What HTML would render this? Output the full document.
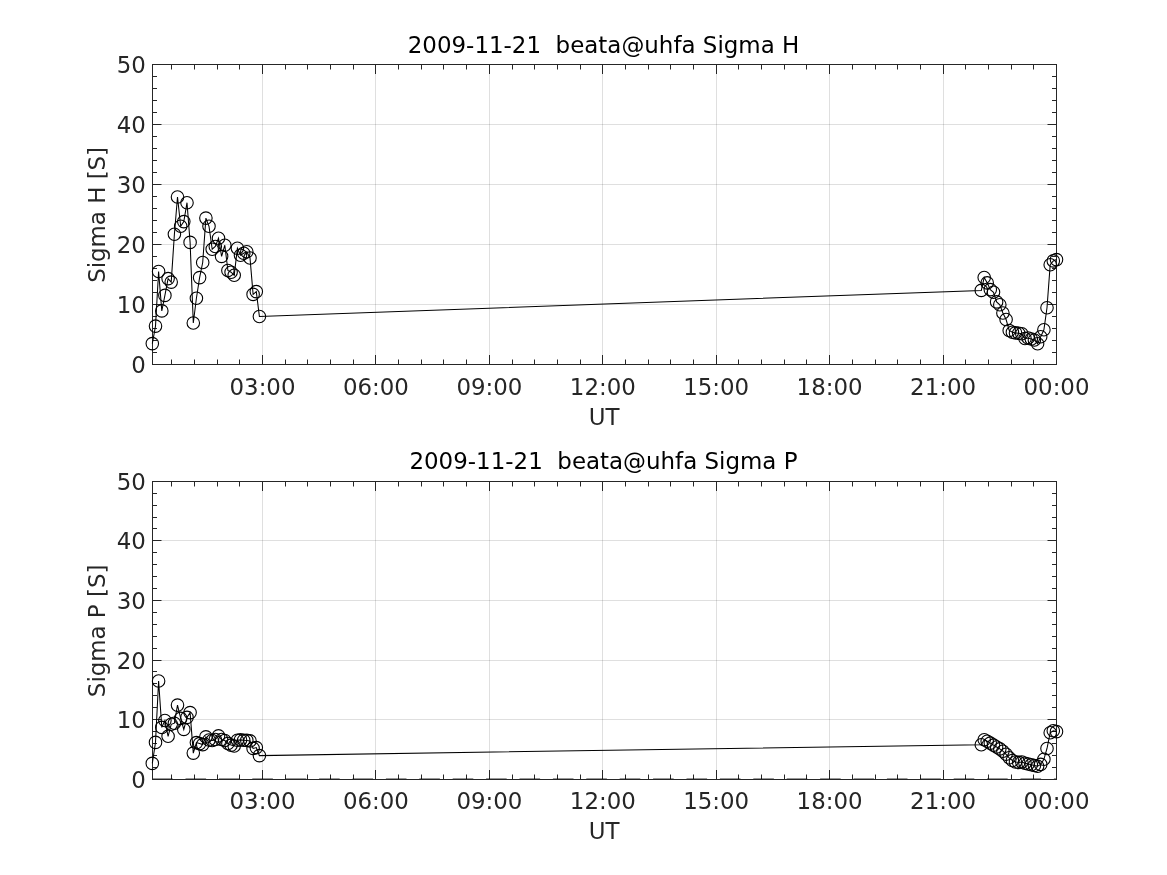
<!DOCTYPE html>
<html lang="en">
<head>
<meta charset="utf-8">
<title>Sigma H / Sigma P</title>
<style>
html,body{margin:0;padding:0;background:#fff;}
body{width:1167px;height:875px;overflow:hidden;}
svg{display:block;font-family:"DejaVu Sans","Liberation Sans",sans-serif;font-size:22.9px;}
</style>
</head>
<body>
<svg width="1167" height="875" viewBox="0 0 1167 875">
<rect width="1167" height="875" fill="#fff"/>
<path d="M262.50 64.5V364.5M375.50 64.5V364.5M489.50 64.5V364.5M602.50 64.5V364.5M716.50 64.5V364.5M829.50 64.5V364.5M943.50 64.5V364.5" stroke="#262626" stroke-opacity="0.15" stroke-width="1" fill="none"/>
<path d="M152.5 304.50H1056.5M152.5 244.50H1056.5M152.5 184.50H1056.5M152.5 124.50H1056.5" stroke="#262626" stroke-opacity="0.15" stroke-width="1" fill="none"/>
<path d="M171.50 364.5v-5M171.50 64.5v5M194.50 364.5v-5M194.50 64.5v5M217.50 364.5v-5M217.50 64.5v5M239.50 364.5v-5M239.50 64.5v5M262.50 364.5v-9.5M262.50 64.5v9.5M285.50 364.5v-5M285.50 64.5v5M307.50 364.5v-5M307.50 64.5v5M330.50 364.5v-5M330.50 64.5v5M353.50 364.5v-5M353.50 64.5v5M375.50 364.5v-9.5M375.50 64.5v9.5M398.50 364.5v-5M398.50 64.5v5M421.50 364.5v-5M421.50 64.5v5M443.50 364.5v-5M443.50 64.5v5M466.50 364.5v-5M466.50 64.5v5M489.50 364.5v-9.5M489.50 64.5v9.5M512.50 364.5v-5M512.50 64.5v5M534.50 364.5v-5M534.50 64.5v5M557.50 364.5v-5M557.50 64.5v5M580.50 364.5v-5M580.50 64.5v5M602.50 364.5v-9.5M602.50 64.5v9.5M625.50 364.5v-5M625.50 64.5v5M648.50 364.5v-5M648.50 64.5v5M670.50 364.5v-5M670.50 64.5v5M693.50 364.5v-5M693.50 64.5v5M716.50 364.5v-9.5M716.50 64.5v9.5M738.50 364.5v-5M738.50 64.5v5M761.50 364.5v-5M761.50 64.5v5M784.50 364.5v-5M784.50 64.5v5M806.50 364.5v-5M806.50 64.5v5M829.50 364.5v-9.5M829.50 64.5v9.5M852.50 364.5v-5M852.50 64.5v5M875.50 364.5v-5M875.50 64.5v5M897.50 364.5v-5M897.50 64.5v5M920.50 364.5v-5M920.50 64.5v5M943.50 364.5v-9.5M943.50 64.5v9.5M965.50 364.5v-5M965.50 64.5v5M988.50 364.5v-5M988.50 64.5v5M1011.50 364.5v-5M1011.50 64.5v5M1033.50 364.5v-5M1033.50 64.5v5M152.5 352.50h4.5M1056.5 352.50h-4.5M152.5 340.50h4.5M1056.5 340.50h-4.5M152.5 328.50h4.5M1056.5 328.50h-4.5M152.5 316.50h4.5M1056.5 316.50h-4.5M152.5 304.50h9M1056.5 304.50h-9M152.5 292.50h4.5M1056.5 292.50h-4.5M152.5 280.50h4.5M1056.5 280.50h-4.5M152.5 268.50h4.5M1056.5 268.50h-4.5M152.5 256.50h4.5M1056.5 256.50h-4.5M152.5 244.50h9M1056.5 244.50h-9M152.5 232.50h4.5M1056.5 232.50h-4.5M152.5 220.50h4.5M1056.5 220.50h-4.5M152.5 208.50h4.5M1056.5 208.50h-4.5M152.5 196.50h4.5M1056.5 196.50h-4.5M152.5 184.50h9M1056.5 184.50h-9M152.5 172.50h4.5M1056.5 172.50h-4.5M152.5 160.50h4.5M1056.5 160.50h-4.5M152.5 148.50h4.5M1056.5 148.50h-4.5M152.5 136.50h4.5M1056.5 136.50h-4.5M152.5 124.50h9M1056.5 124.50h-9M152.5 112.50h4.5M1056.5 112.50h-4.5M152.5 100.50h4.5M1056.5 100.50h-4.5M152.5 88.50h4.5M1056.5 88.50h-4.5M152.5 76.50h4.5M1056.5 76.50h-4.5" stroke="#262626" stroke-width="1" fill="none"/>
<path d="M152.1 364.5H1056.5" stroke="#000" stroke-width="1" stroke-dasharray="20.6 12.8" fill="none"/>
<rect x="152.5" y="64.5" width="904.0" height="300.0" stroke="#262626" stroke-width="1" fill="none"/>
<polyline points="152.3,343.6 155.5,326.1 158.6,271.5 161.8,310.9 164.9,295.4 168.1,278.6 171.2,282.1 174.4,234.3 177.5,197.0 180.7,226.3 183.8,221.6 187.0,202.7 190.1,242.4 193.3,323.0 196.4,298.2 199.6,277.6 202.7,262.5 205.9,218.1 209.0,226.3 212.2,249.2 215.3,246.5 218.5,238.2 221.6,256.4 224.8,245.2 227.9,270.5 231.1,272.2 234.2,275.3 237.4,248.3 240.5,255.3 243.7,253.2 246.8,251.7 250.0,258.0 253.1,294.4 256.3,291.6 259.4,316.5 981.3,290.4 984.2,277.5 987.2,282.9 990.3,289.6 993.5,292.3 996.6,301.9 999.8,304.8 1002.9,313.0 1006.1,319.5 1009.2,330.5 1012.4,332.3 1015.5,332.9 1018.7,333.2 1021.8,333.8 1025.0,338.5 1028.1,338.0 1031.3,339.0 1034.4,340.0 1037.6,343.7 1040.7,336.8 1043.9,329.8 1047.0,307.8 1050.2,264.7 1053.3,260.9 1056.5,259.6" stroke="#000" stroke-width="1.05" fill="none" stroke-linejoin="miter"/>
<g stroke="#000" stroke-width="1.1" fill="none"><circle cx="152.3" cy="343.6" r="6.25"/><circle cx="155.5" cy="326.1" r="6.25"/><circle cx="158.6" cy="271.5" r="6.25"/><circle cx="161.8" cy="310.9" r="6.25"/><circle cx="164.9" cy="295.4" r="6.25"/><circle cx="168.1" cy="278.6" r="6.25"/><circle cx="171.2" cy="282.1" r="6.25"/><circle cx="174.4" cy="234.3" r="6.25"/><circle cx="177.5" cy="197.0" r="6.25"/><circle cx="180.7" cy="226.3" r="6.25"/><circle cx="183.8" cy="221.6" r="6.25"/><circle cx="187.0" cy="202.7" r="6.25"/><circle cx="190.1" cy="242.4" r="6.25"/><circle cx="193.3" cy="323.0" r="6.25"/><circle cx="196.4" cy="298.2" r="6.25"/><circle cx="199.6" cy="277.6" r="6.25"/><circle cx="202.7" cy="262.5" r="6.25"/><circle cx="205.9" cy="218.1" r="6.25"/><circle cx="209.0" cy="226.3" r="6.25"/><circle cx="212.2" cy="249.2" r="6.25"/><circle cx="215.3" cy="246.5" r="6.25"/><circle cx="218.5" cy="238.2" r="6.25"/><circle cx="221.6" cy="256.4" r="6.25"/><circle cx="224.8" cy="245.2" r="6.25"/><circle cx="227.9" cy="270.5" r="6.25"/><circle cx="231.1" cy="272.2" r="6.25"/><circle cx="234.2" cy="275.3" r="6.25"/><circle cx="237.4" cy="248.3" r="6.25"/><circle cx="240.5" cy="255.3" r="6.25"/><circle cx="243.7" cy="253.2" r="6.25"/><circle cx="246.8" cy="251.7" r="6.25"/><circle cx="250.0" cy="258.0" r="6.25"/><circle cx="253.1" cy="294.4" r="6.25"/><circle cx="256.3" cy="291.6" r="6.25"/><circle cx="259.4" cy="316.5" r="6.25"/><circle cx="981.3" cy="290.4" r="6.25"/><circle cx="984.2" cy="277.5" r="6.25"/><circle cx="987.2" cy="282.9" r="6.25"/><circle cx="990.3" cy="289.6" r="6.25"/><circle cx="993.5" cy="292.3" r="6.25"/><circle cx="996.6" cy="301.9" r="6.25"/><circle cx="999.8" cy="304.8" r="6.25"/><circle cx="1002.9" cy="313.0" r="6.25"/><circle cx="1006.1" cy="319.5" r="6.25"/><circle cx="1009.2" cy="330.5" r="6.25"/><circle cx="1012.4" cy="332.3" r="6.25"/><circle cx="1015.5" cy="332.9" r="6.25"/><circle cx="1018.7" cy="333.2" r="6.25"/><circle cx="1021.8" cy="333.8" r="6.25"/><circle cx="1025.0" cy="338.5" r="6.25"/><circle cx="1028.1" cy="338.0" r="6.25"/><circle cx="1031.3" cy="339.0" r="6.25"/><circle cx="1034.4" cy="340.0" r="6.25"/><circle cx="1037.6" cy="343.7" r="6.25"/><circle cx="1040.7" cy="336.8" r="6.25"/><circle cx="1043.9" cy="329.8" r="6.25"/><circle cx="1047.0" cy="307.8" r="6.25"/><circle cx="1050.2" cy="264.7" r="6.25"/><circle cx="1053.3" cy="260.9" r="6.25"/><circle cx="1056.5" cy="259.6" r="6.25"/></g>
<g fill="#262626"><text x="145.8" y="373.1" text-anchor="end">0</text><text x="145.8" y="313.1" text-anchor="end">10</text><text x="145.8" y="253.1" text-anchor="end">20</text><text x="145.8" y="193.1" text-anchor="end">30</text><text x="145.8" y="133.1" text-anchor="end">40</text><text x="145.8" y="73.1" text-anchor="end">50</text><text x="262.5" y="395.1" text-anchor="middle">03:00</text><text x="375.9" y="395.1" text-anchor="middle">06:00</text><text x="489.4" y="395.1" text-anchor="middle">09:00</text><text x="602.8" y="395.1" text-anchor="middle">12:00</text><text x="716.2" y="395.1" text-anchor="middle">15:00</text><text x="829.6" y="395.1" text-anchor="middle">18:00</text><text x="943.1" y="395.1" text-anchor="middle">21:00</text><text x="1056.5" y="395.1" text-anchor="middle">00:00</text><text x="604.2" y="424.8" text-anchor="middle">UT</text><text transform="translate(104.5 214.9) rotate(-90)" text-anchor="middle">Sigma H [S]</text></g>
<text x="603.5" y="52.8" text-anchor="middle" fill="#000" font-size="22.95" xml:space="preserve">2009-11-21  beata@uhfa Sigma H</text>
<path d="M262.50 481.5V779.5M375.50 481.5V779.5M489.50 481.5V779.5M602.50 481.5V779.5M716.50 481.5V779.5M829.50 481.5V779.5M943.50 481.5V779.5" stroke="#262626" stroke-opacity="0.15" stroke-width="1" fill="none"/>
<path d="M152.5 719.50H1056.5M152.5 660.50H1056.5M152.5 600.50H1056.5M152.5 540.50H1056.5" stroke="#262626" stroke-opacity="0.15" stroke-width="1" fill="none"/>
<path d="M171.50 779.5v-5M171.50 481.5v5M194.50 779.5v-5M194.50 481.5v5M217.50 779.5v-5M217.50 481.5v5M239.50 779.5v-5M239.50 481.5v5M262.50 779.5v-9.5M262.50 481.5v9.5M285.50 779.5v-5M285.50 481.5v5M307.50 779.5v-5M307.50 481.5v5M330.50 779.5v-5M330.50 481.5v5M353.50 779.5v-5M353.50 481.5v5M375.50 779.5v-9.5M375.50 481.5v9.5M398.50 779.5v-5M398.50 481.5v5M421.50 779.5v-5M421.50 481.5v5M443.50 779.5v-5M443.50 481.5v5M466.50 779.5v-5M466.50 481.5v5M489.50 779.5v-9.5M489.50 481.5v9.5M512.50 779.5v-5M512.50 481.5v5M534.50 779.5v-5M534.50 481.5v5M557.50 779.5v-5M557.50 481.5v5M580.50 779.5v-5M580.50 481.5v5M602.50 779.5v-9.5M602.50 481.5v9.5M625.50 779.5v-5M625.50 481.5v5M648.50 779.5v-5M648.50 481.5v5M670.50 779.5v-5M670.50 481.5v5M693.50 779.5v-5M693.50 481.5v5M716.50 779.5v-9.5M716.50 481.5v9.5M738.50 779.5v-5M738.50 481.5v5M761.50 779.5v-5M761.50 481.5v5M784.50 779.5v-5M784.50 481.5v5M806.50 779.5v-5M806.50 481.5v5M829.50 779.5v-9.5M829.50 481.5v9.5M852.50 779.5v-5M852.50 481.5v5M875.50 779.5v-5M875.50 481.5v5M897.50 779.5v-5M897.50 481.5v5M920.50 779.5v-5M920.50 481.5v5M943.50 779.5v-9.5M943.50 481.5v9.5M965.50 779.5v-5M965.50 481.5v5M988.50 779.5v-5M988.50 481.5v5M1011.50 779.5v-5M1011.50 481.5v5M1033.50 779.5v-5M1033.50 481.5v5M152.5 767.50h4.5M1056.5 767.50h-4.5M152.5 755.50h4.5M1056.5 755.50h-4.5M152.5 743.50h4.5M1056.5 743.50h-4.5M152.5 731.50h4.5M1056.5 731.50h-4.5M152.5 719.50h9M1056.5 719.50h-9M152.5 707.50h4.5M1056.5 707.50h-4.5M152.5 695.50h4.5M1056.5 695.50h-4.5M152.5 683.50h4.5M1056.5 683.50h-4.5M152.5 671.50h4.5M1056.5 671.50h-4.5M152.5 660.50h9M1056.5 660.50h-9M152.5 648.50h4.5M1056.5 648.50h-4.5M152.5 636.50h4.5M1056.5 636.50h-4.5M152.5 624.50h4.5M1056.5 624.50h-4.5M152.5 612.50h4.5M1056.5 612.50h-4.5M152.5 600.50h9M1056.5 600.50h-9M152.5 588.50h4.5M1056.5 588.50h-4.5M152.5 576.50h4.5M1056.5 576.50h-4.5M152.5 564.50h4.5M1056.5 564.50h-4.5M152.5 552.50h4.5M1056.5 552.50h-4.5M152.5 540.50h9M1056.5 540.50h-9M152.5 528.50h4.5M1056.5 528.50h-4.5M152.5 517.50h4.5M1056.5 517.50h-4.5M152.5 505.50h4.5M1056.5 505.50h-4.5M152.5 493.50h4.5M1056.5 493.50h-4.5" stroke="#262626" stroke-width="1" fill="none"/>
<path d="M152.1 779.1H1056.5" stroke="#000" stroke-width="1" stroke-dasharray="20.6 12.8" fill="none"/>
<rect x="152.5" y="481.5" width="904.0" height="298.0" stroke="#262626" stroke-width="1" fill="none"/>
<polyline points="152.3,763.4 155.5,742.4 158.6,681.0 161.8,727.4 164.9,720.5 168.1,736.3 171.2,724.3 174.4,723.2 177.5,705.1 180.7,718.4 183.8,729.4 187.0,717.4 190.1,712.6 193.3,753.1 196.4,742.6 199.6,743.6 202.7,744.6 205.9,736.9 209.0,740.0 212.2,740.5 215.3,739.5 218.5,735.9 221.6,739.5 224.8,740.5 227.9,743.5 231.1,745.1 234.2,746.0 237.4,740.2 240.5,739.9 243.7,740.2 246.8,740.4 250.0,740.9 253.1,748.4 256.3,747.6 259.4,755.6 981.3,744.7 984.2,739.7 987.2,741.2 990.3,743.1 993.5,745.1 996.6,747.0 999.8,748.9 1002.9,751.2 1006.1,754.3 1009.2,757.8 1012.4,760.5 1015.5,762.0 1018.7,762.4 1021.8,762.0 1025.0,763.2 1028.1,764.0 1031.3,764.7 1034.4,765.5 1037.6,766.3 1040.7,764.4 1043.9,759.3 1047.0,748.5 1050.2,732.7 1053.3,730.8 1056.5,731.6" stroke="#000" stroke-width="1.05" fill="none" stroke-linejoin="miter"/>
<g stroke="#000" stroke-width="1.1" fill="none"><circle cx="152.3" cy="763.4" r="6.25"/><circle cx="155.5" cy="742.4" r="6.25"/><circle cx="158.6" cy="681.0" r="6.25"/><circle cx="161.8" cy="727.4" r="6.25"/><circle cx="164.9" cy="720.5" r="6.25"/><circle cx="168.1" cy="736.3" r="6.25"/><circle cx="171.2" cy="724.3" r="6.25"/><circle cx="174.4" cy="723.2" r="6.25"/><circle cx="177.5" cy="705.1" r="6.25"/><circle cx="180.7" cy="718.4" r="6.25"/><circle cx="183.8" cy="729.4" r="6.25"/><circle cx="187.0" cy="717.4" r="6.25"/><circle cx="190.1" cy="712.6" r="6.25"/><circle cx="193.3" cy="753.1" r="6.25"/><circle cx="196.4" cy="742.6" r="6.25"/><circle cx="199.6" cy="743.6" r="6.25"/><circle cx="202.7" cy="744.6" r="6.25"/><circle cx="205.9" cy="736.9" r="6.25"/><circle cx="209.0" cy="740.0" r="6.25"/><circle cx="212.2" cy="740.5" r="6.25"/><circle cx="215.3" cy="739.5" r="6.25"/><circle cx="218.5" cy="735.9" r="6.25"/><circle cx="221.6" cy="739.5" r="6.25"/><circle cx="224.8" cy="740.5" r="6.25"/><circle cx="227.9" cy="743.5" r="6.25"/><circle cx="231.1" cy="745.1" r="6.25"/><circle cx="234.2" cy="746.0" r="6.25"/><circle cx="237.4" cy="740.2" r="6.25"/><circle cx="240.5" cy="739.9" r="6.25"/><circle cx="243.7" cy="740.2" r="6.25"/><circle cx="246.8" cy="740.4" r="6.25"/><circle cx="250.0" cy="740.9" r="6.25"/><circle cx="253.1" cy="748.4" r="6.25"/><circle cx="256.3" cy="747.6" r="6.25"/><circle cx="259.4" cy="755.6" r="6.25"/><circle cx="981.3" cy="744.7" r="6.25"/><circle cx="984.2" cy="739.7" r="6.25"/><circle cx="987.2" cy="741.2" r="6.25"/><circle cx="990.3" cy="743.1" r="6.25"/><circle cx="993.5" cy="745.1" r="6.25"/><circle cx="996.6" cy="747.0" r="6.25"/><circle cx="999.8" cy="748.9" r="6.25"/><circle cx="1002.9" cy="751.2" r="6.25"/><circle cx="1006.1" cy="754.3" r="6.25"/><circle cx="1009.2" cy="757.8" r="6.25"/><circle cx="1012.4" cy="760.5" r="6.25"/><circle cx="1015.5" cy="762.0" r="6.25"/><circle cx="1018.7" cy="762.4" r="6.25"/><circle cx="1021.8" cy="762.0" r="6.25"/><circle cx="1025.0" cy="763.2" r="6.25"/><circle cx="1028.1" cy="764.0" r="6.25"/><circle cx="1031.3" cy="764.7" r="6.25"/><circle cx="1034.4" cy="765.5" r="6.25"/><circle cx="1037.6" cy="766.3" r="6.25"/><circle cx="1040.7" cy="764.4" r="6.25"/><circle cx="1043.9" cy="759.3" r="6.25"/><circle cx="1047.0" cy="748.5" r="6.25"/><circle cx="1050.2" cy="732.7" r="6.25"/><circle cx="1053.3" cy="730.8" r="6.25"/><circle cx="1056.5" cy="731.6" r="6.25"/></g>
<g fill="#262626"><text x="145.8" y="788.1" text-anchor="end">0</text><text x="145.8" y="728.1" text-anchor="end">10</text><text x="145.8" y="669.1" text-anchor="end">20</text><text x="145.8" y="609.1" text-anchor="end">30</text><text x="145.8" y="549.1" text-anchor="end">40</text><text x="145.8" y="490.1" text-anchor="end">50</text><text x="262.5" y="809.1" text-anchor="middle">03:00</text><text x="375.9" y="809.1" text-anchor="middle">06:00</text><text x="489.4" y="809.1" text-anchor="middle">09:00</text><text x="602.8" y="809.1" text-anchor="middle">12:00</text><text x="716.2" y="809.1" text-anchor="middle">15:00</text><text x="829.6" y="809.1" text-anchor="middle">18:00</text><text x="943.1" y="809.1" text-anchor="middle">21:00</text><text x="1056.5" y="809.1" text-anchor="middle">00:00</text><text x="604.2" y="838.8" text-anchor="middle">UT</text><text transform="translate(104.5 630.9) rotate(-90)" text-anchor="middle">Sigma P [S]</text></g>
<text x="603.5" y="469.3" text-anchor="middle" fill="#000" font-size="22.95" xml:space="preserve">2009-11-21  beata@uhfa Sigma P</text>
</svg>
</body>
</html>
